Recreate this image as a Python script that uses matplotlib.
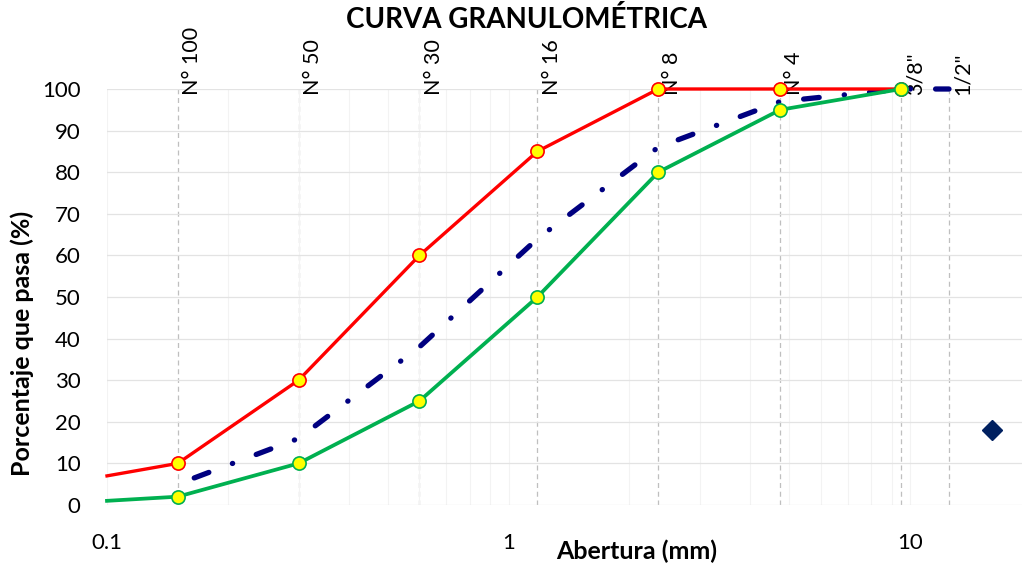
import matplotlib
matplotlib.use("Agg")
import matplotlib.pyplot as plt
from matplotlib.ticker import FixedLocator, LogLocator, NullFormatter

# ── data ──────────────────────────────────────────────────────────
SIEVE_MM     = [0.15, 0.3, 0.6, 1.18, 2.36, 4.75, 9.5, 12.5]
SIEVE_LABELS = ["N° 100", "N° 50", "N° 30", "N° 16", "N° 8", "N° 4", '3/8"', '1/2"']

LIMIT_MM = [0.1, 0.15, 0.3, 0.6, 1.18, 2.36, 4.75, 9.5]
UPPER    = [7, 10, 30, 60, 85, 100, 100, 100]
LOWER    = [1, 2, 10, 25, 50, 80, 95, 100]

SAMPLE_MM = [0.15, 0.3, 0.6, 1.18, 2.36, 4.75, 9.5, 12.5]
SAMPLE    = [5, 16, 38, 64, 86, 97, 100, 100]

EXTRA_MM  = [16]
EXTRA_PCT = [18]

# ── palette ───────────────────────────────────────────────────────
RED    = "#ff0000"
GREEN  = "#00b050"
YELLOW = "#ffff00"
NAVY   = "#000080"
DIAM   = "#002060"
GRID   = "#e3e3e3"
MINOR  = "#f3f3f3"
SIEVE  = "#bfbfbf"

plt.rcParams["font.family"] = ["Lato", "DejaVu Sans"]

fig = plt.figure(figsize=(10.24, 5.69), dpi=100)
ax = fig.add_axes([107 / 1024, 64 / 569, 915 / 1024, 416 / 569])

ax.set_xscale("log")
ax.set_xlim(0.1, 19)
ax.set_ylim(0, 100)

# grid
ax.xaxis.set_minor_locator(LogLocator(base=10, subs=range(2, 10)))
ax.xaxis.set_minor_formatter(NullFormatter())
ax.grid(True, which="minor", axis="x", color=MINOR, lw=0.8, zorder=0)
ax.grid(True, which="major", axis="x", color=MINOR, lw=0.8, zorder=0)
ax.set_yticks(range(0, 101, 10))
ax.grid(True, which="major", axis="y", color=GRID, lw=0.9, zorder=0)
for s in ax.spines.values():
    s.set_visible(False)

ax.xaxis.set_major_locator(FixedLocator([0.1, 1, 10]))
ax.set_xticklabels(["0.1", "1", "10"])
ax.tick_params(axis="both", which="both", length=0, labelsize=16)
ax.tick_params(axis="x", pad=20)
ax.tick_params(axis="y", pad=19)

# sieve reference lines + labels
for mm, lab in zip(SIEVE_MM, SIEVE_LABELS):
    ax.plot([mm, mm], [0, 100], color=SIEVE, lw=0.9, ls=(0, (4, 3)), zorder=1)
    ax.annotate(lab, xy=(mm, 98.5), xytext=(3, 0), textcoords="offset points",
                rotation=90, ha="left", va="bottom", fontsize=15.5,
                annotation_clip=False)

# curves
ax.plot(SAMPLE_MM, SAMPLE, color=NAVY, lw=3.8, dash_capstyle="round",
        ls=(9.2, (2.96, 4.77, 0.05, 4.77)), zorder=3, clip_on=False)
ax.plot(LIMIT_MM, UPPER, color=RED, lw=2.4, marker="o", ms=9.5,
        mfc=YELLOW, mec=RED, mew=1.2, markevery=list(range(1, len(LIMIT_MM))),
        zorder=4, clip_on=False)
ax.plot(LIMIT_MM, LOWER, color=GREEN, lw=2.7, marker="o", ms=9.5,
        mfc=YELLOW, mec=GREEN, mew=1.2, markevery=list(range(1, len(LIMIT_MM))),
        zorder=5, clip_on=False)
ax.plot(EXTRA_MM, EXTRA_PCT, ls="none", marker="D", ms=10, color=DIAM, zorder=5)

fig.text(527 / 1024, 1 - 20 / 569, "CURVA GRANULOMÉTRICA", ha="center", va="center",
         fontsize=20, fontweight="bold")
fig.text(637 / 1024, 1 - 551 / 569, "Abertura (mm)", ha="center", va="center",
         fontsize=18, fontweight="bold")
fig.text(22 / 1024, 1 - 343 / 569, "Porcentaje que pasa (%)", ha="center", va="center",
         rotation=90, fontsize=18, fontweight="bold")

fig.savefig("out.png", dpi=100)
